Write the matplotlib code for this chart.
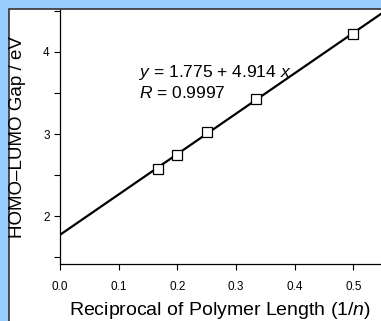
import numpy as np
import matplotlib
matplotlib.use("Agg")
import matplotlib.pyplot as plt
from matplotlib.patches import Rectangle
from matplotlib.ticker import MultipleLocator, FormatStrFormatter

plt.rcParams['font.family'] = ['Liberation Sans', 'DejaVu Sans']
plt.rcParams['mathtext.fontset'] = 'custom'
plt.rcParams['mathtext.rm'] = 'Liberation Sans'
plt.rcParams['mathtext.it'] = 'Liberation Sans:italic'

# datos: longitud del polimero y gap HOMO-LUMO
recip_n = [0.5, 1/3, 0.25, 0.2, 1/6]
gap_ev = [4.22, 3.43, 3.02, 2.75, 2.58]
intercept = 1.775
slope = 4.914
r_value = 0.9997

fig = plt.figure(figsize=(3.81, 3.21), dpi=100, facecolor='#99ccff')
# panel blanco con borde
panel = Rectangle((9/381, -0.01), 1, 1 - 9/321 + 0.01, transform=fig.transFigure,
                  facecolor='white', edgecolor='#333333', linewidth=1.2, zorder=-10)
fig.patches.append(panel)

ax = fig.add_axes([60/381, 57/321, 1 - 60/381, (321 - 10 - 57)/321])
ax.set_facecolor('none')
ax.set_zorder(5)

x_fit = np.array([0.0, 0.6])
ax.plot(x_fit, intercept + slope * x_fit, color='black', lw=1.6, zorder=2)
ax.plot(recip_n, gap_ev, 's', ms=6.5, mfc='white', mec='black', mew=0.9, zorder=3)

ax.set_xlim(0, 0.547)
ax.set_ylim(1.42, 4.51)
ax.xaxis.set_major_locator(MultipleLocator(0.1))
ax.yaxis.set_major_locator(MultipleLocator(1))
ax.yaxis.set_minor_locator(MultipleLocator(0.5))
ax.xaxis.set_major_formatter(FormatStrFormatter('%.1f'))
ax.tick_params(direction='out', length=4.5, width=0.8, labelsize=8.5)
ax.tick_params(axis='x', pad=8)
ax.tick_params(axis='y', pad=3)
ax.tick_params(axis='y', which='minor', length=4.5, width=0.8)

for s in ['top', 'right']:
    ax.spines[s].set_visible(False)
for s in ['left', 'bottom']:
    ax.spines[s].set_linewidth(0.9)

ax.set_xlabel('Reciprocal of Polymer Length (1/$n$)', fontsize=14, labelpad=5)
ax.set_ylabel('HOMO\u2013LUMO Gap / eV', fontsize=13.5, labelpad=12)

ax.text(0.135, 3.745, '$y$ = %.3f + %.3f $x$' % (intercept, slope),
        fontsize=12.5, va='center')
ax.text(0.135, 3.50, '$R$ = %.4f' % r_value, fontsize=12.5, va='center')

fig.savefig('out.png', dpi=100, facecolor=fig.get_facecolor())
